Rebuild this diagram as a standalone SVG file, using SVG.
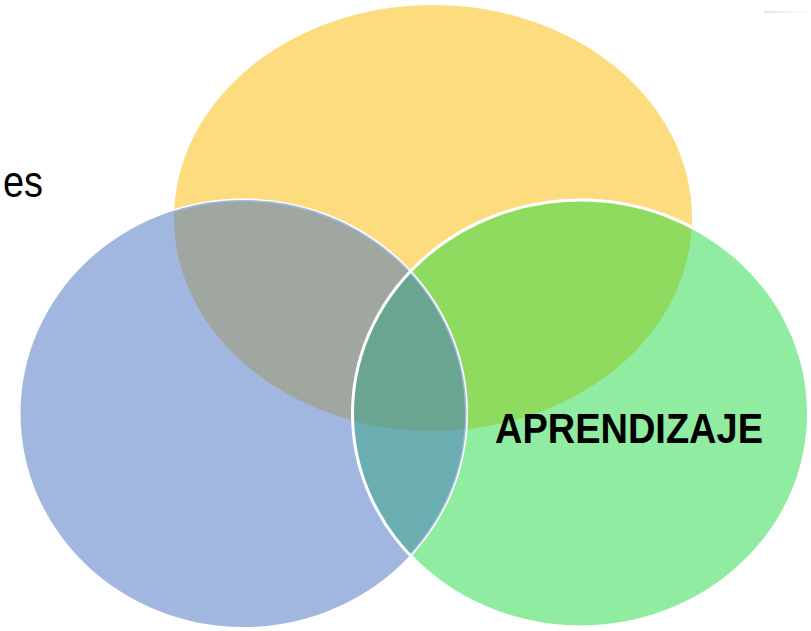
<svg xmlns="http://www.w3.org/2000/svg" width="811" height="631" viewBox="0 0 811 631">
<style>
.ell{fill-opacity:0.5}
.stk{fill:none;stroke:#FFFFFF;stroke-width:3}
.lbl{font-family:"Liberation Sans","Noto Sans",sans-serif;fill:#000000}
</style>
<defs>
<linearGradient id="fade" x1="0" y1="0" x2="1" y2="0">
<stop offset="0" stop-color="#E4E4E4"/>
<stop offset="1" stop-color="#FFFFFF"/>
</linearGradient>
<ellipse id="blueShape" cx="243.5" cy="413.5" rx="223" ry="213.5"/>
<ellipse id="greenShape" cx="580.5" cy="413.5" rx="228" ry="213.5"/>
</defs>
<rect x="0" y="0" width="811" height="631" fill="#FFFFFF"/>
<rect x="764" y="11" width="46" height="2" fill="url(#fade)"/>
<g id="yellow">
<ellipse class="ell" cx="433" cy="218" rx="259" ry="213" fill="#FBB900"/>
</g>
<g id="green">
<use href="#greenShape" class="ell" fill="#22D942"/>
</g>
<g id="blue">
<use href="#blueShape" class="stk"/>
<use href="#blueShape" class="ell" fill="#4470C2"/>
</g>
<g id="green-outline">
<use href="#greenShape" class="stk"/>
</g>
<g id="text-es">
<text class="lbl" x="3" y="197" font-size="44" textLength="40" lengthAdjust="spacingAndGlyphs">es</text>
</g>
<g id="text-aprendizaje">
<text class="lbl" x="495" y="443" font-size="42" font-weight="bold" textLength="268" lengthAdjust="spacingAndGlyphs">APRENDIZAJE</text>
</g>
<g id="connectors"></g>
</svg>
